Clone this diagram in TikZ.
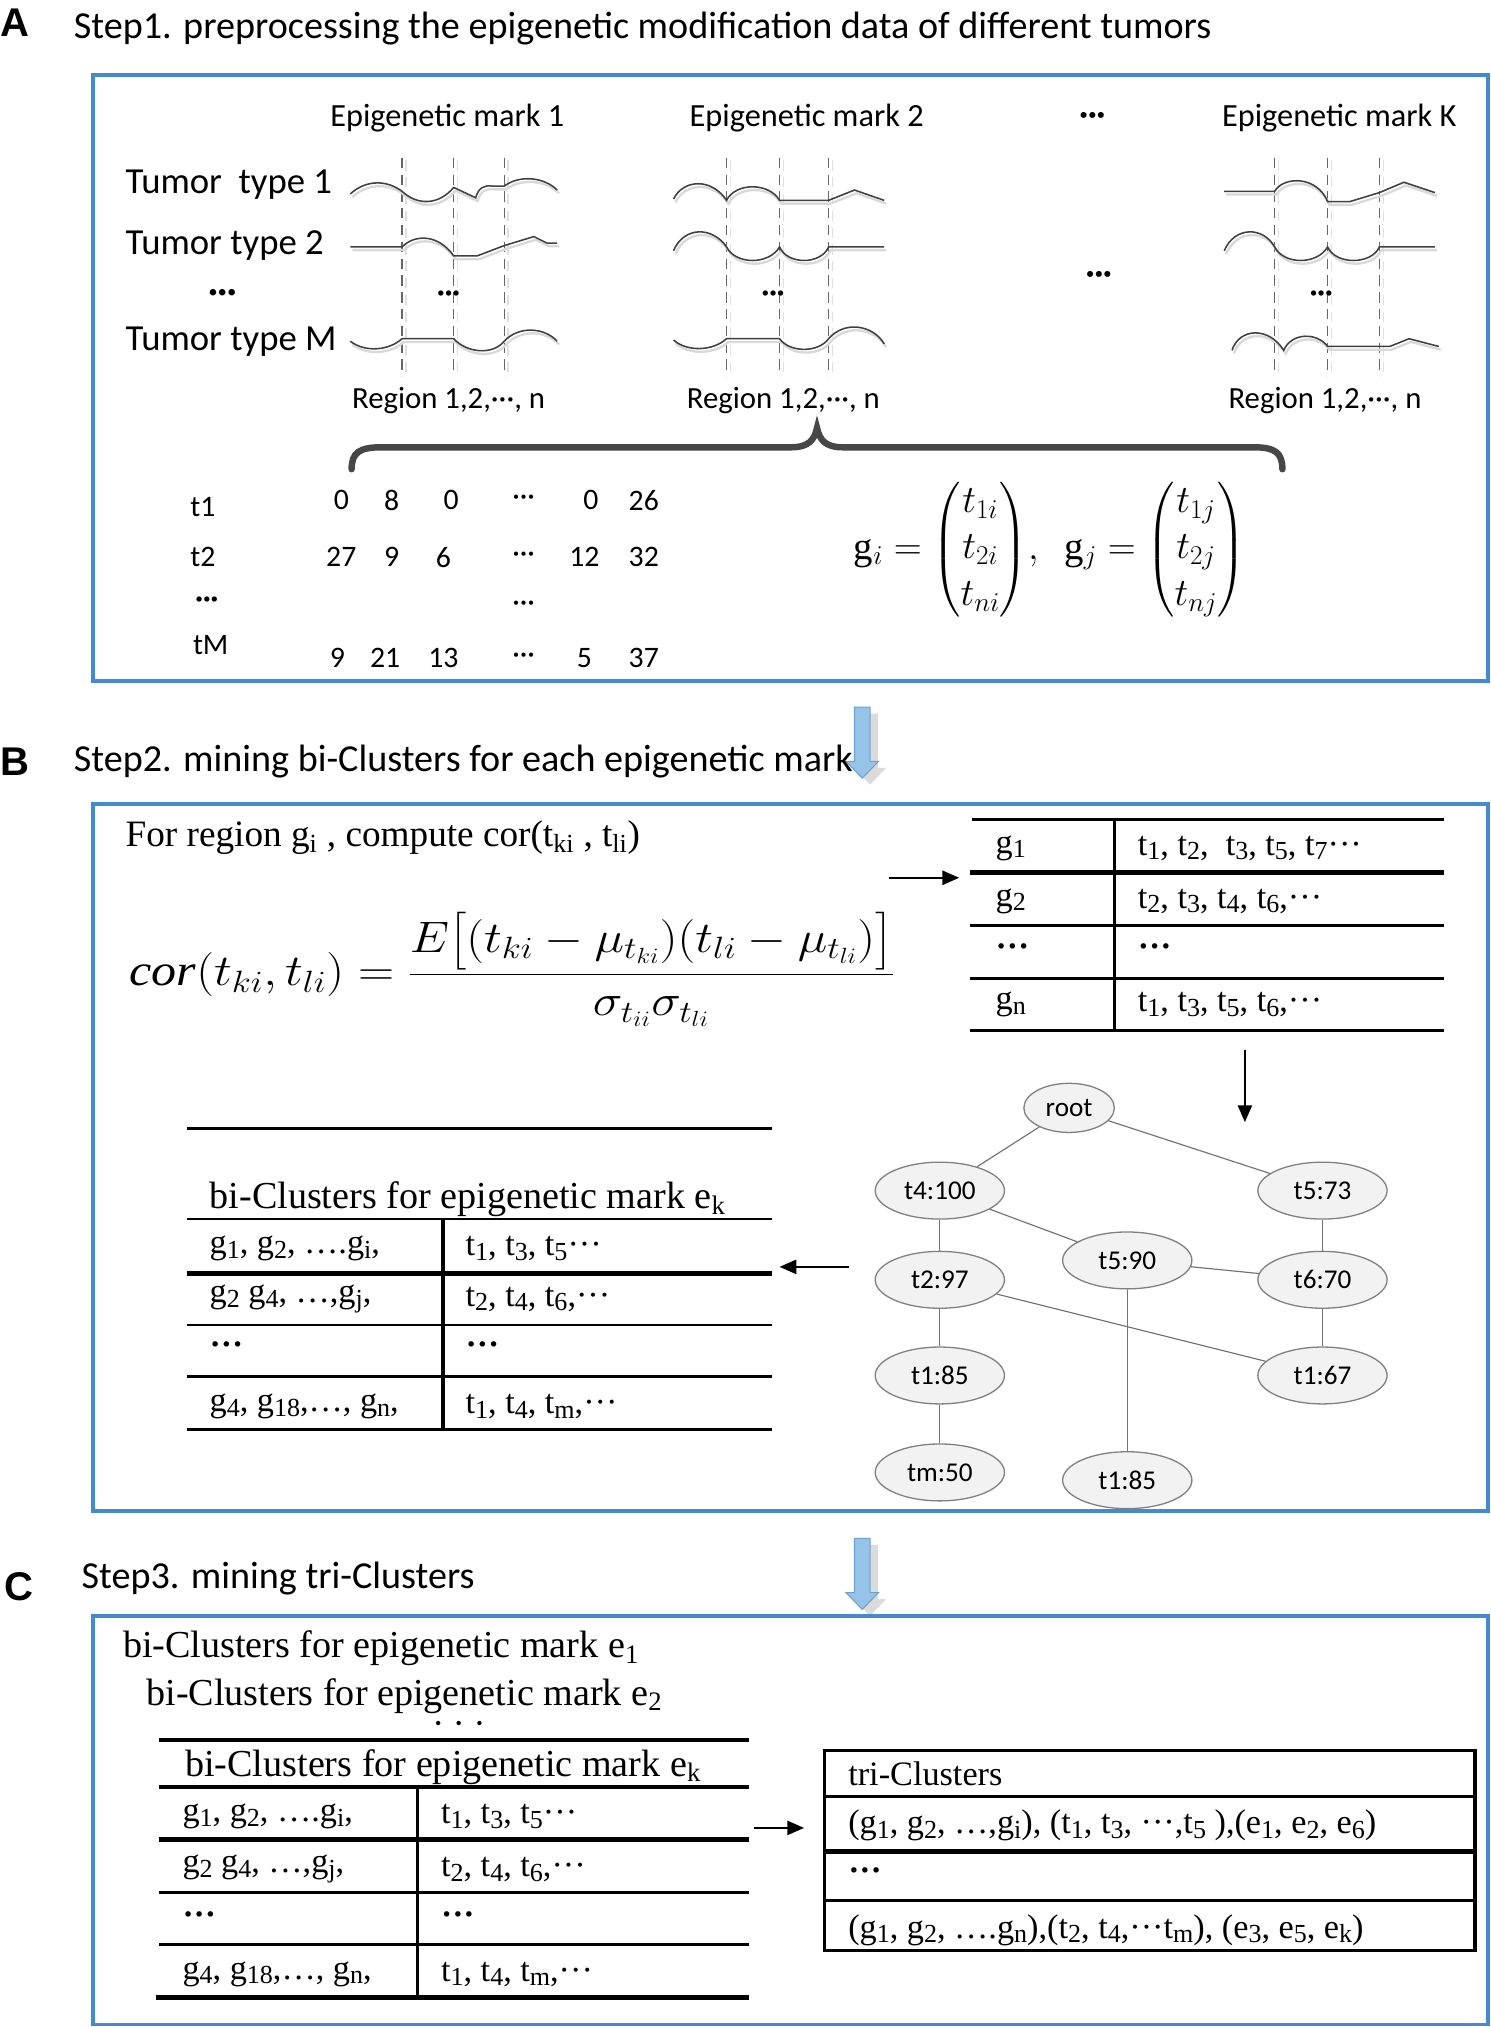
\RequirePackage{fix-cm}
\documentclass[tikz,border=0pt]{standalone}
\usepackage{amsmath}
\usepackage{graphicx}
\usepackage{fontspec}
\usetikzlibrary{shapes.geometric,arrows.meta}
\setmainfont{Liberation Serif}
\newfontfamily\calib{Carlito}
\newfontfamily\arialf{Liberation Sans}
\newcommand\fsz[1]{\fontsize{#1}{#1}\selectfont}
\newcommand\sbx[1]{\raisebox{-0.3ex}{\scalebox{0.76}{#1}}}
\definecolor{panelblue}{RGB}{68,138,208}
\definecolor{arrowblue}{RGB}{150,195,232}
\definecolor{arrowedge}{RGB}{110,160,205}
\newcommand\wv[3]{%
  \begin{scope}[shift={(#1+1.5,#2+2.5)}]\draw[waveshadow] #3;\end{scope}
  \begin{scope}[shift={(#1,#2)}]\draw[wave] #3;\end{scope}}
\newcommand\bluearr[2]{%
  \fill[black!14] (#1-6+6,#2+5) -- (#1+6+6,#2+5) -- (#1+6+6,#2+47) -- (#1+12.5+6,#2+47) -- (#1+6,#2+60) -- (#1-12.5+6,#2+47) -- (#1-6+6,#2+47) -- cycle;
  \filldraw[fill=arrowblue,draw=arrowedge,line width=0.8pt] (#1-6,#2) -- (#1+6,#2) -- (#1+6,#2+42) -- (#1+12.5,#2+42) -- (#1,#2+55) -- (#1-12.5,#2+42) -- (#1-6,#2+42) -- cycle;}
\begin{document}
\begin{tikzpicture}[x=1pt,y=-1pt,
  panel/.style={draw=panelblue, line width=3pt},
  steptitle/.style={anchor=base west, font=\calib\fsz{29.5}, inner sep=0},
  letter/.style={anchor=base west, font=\arialf\bfseries\fsz{31}, inner sep=0},
  calt/.style={font=\calib\fsz{23}, inner sep=0},
  tumor/.style={anchor=base west, font=\calib\fsz{28.4}, inner sep=0},
  wave/.style={line width=1.2pt, draw=black!75},
  waveshadow/.style={line width=1.8pt, draw=black!15},
  vdash/.style={draw=black!60, line width=0.9pt, dash pattern=on 8pt off 5pt},
  tbl/.style={line width=2.2pt},
  tblthick/.style={line width=3.8pt},
  ttext/.style={anchor=west, font=\fsz{26.5}, inner sep=0},
  thead/.style={anchor=base west, font=\fsz{29.5}, inner sep=0},
  tnode/.style={ellipse, draw=black!50, fill=black!5, line width=1pt, minimum width=100pt, minimum height=44pt, inner sep=0, font=\calib\fsz{21}},
  tedge/.style={draw=black!55, line width=0.9pt},
  blk/.style={-{Triangle[length=13pt,width=11pt]}, line width=1.4pt}]
\useasboundingbox (0,0) rectangle (1153,1568);

% ---------------- Panel A ----------------
\node[letter] (LA) at (0,28) {A};
\node[steptitle] (S1) at (57,30) {Step1. preprocessing the epigenetic modification data of different tumors};
\draw[panel] (72,58) rectangle (1151,527);

\node[calt, anchor=base, font=\calib\fsz{25}] (em1) at (346,98) {Epigenetic mark 1};
\node[calt, anchor=base, font=\calib\fsz{25}] (em2) at (624,98) {Epigenetic mark 2};
\node[calt, font=\calib\fsz{25}\bfseries] (emd) at (845,92) {···};
\node[calt, anchor=base, font=\calib\fsz{25}] (emk) at (1036,98) {Epigenetic mark K};

\node[tumor] (tt1) at (97,150) {Tumor\ \ type 1};
\node[tumor] (tt2) at (97,197) {Tumor type 2};
\node[calt, font=\calib\fsz{27}\bfseries] (ttd) at (172,229) {···};
\node[tumor] (ttm) at (97,271) {Tumor type M};

% dashed region boundaries
\foreach \x in {311,351,390,562,603,641,986,1027,1067}{
  \draw[black!12, line width=1pt, dash pattern=on 8pt off 5pt] (\x+3,124) -- (\x+3,293);
  \draw[vdash] (\x,122) -- (\x,291);}

% waves mark 1
\wv{271}{148}{(0,2) .. controls (12,-9) and (28,-9) .. (40,0) .. controls (52,11) and (68,11) .. (80,-3) -- (97,5) .. controls (99,-3) and (104,-5) .. (110,-4) -- (119,-4) .. controls (131,-13) and (150,-11) .. (160,-1)}
\wv{271}{191}{(0,0) -- (40,0) .. controls (50,-10) and (68,-10) .. (80,7) -- (98,7) -- (119,-1) -- (142,-8) -- (152,-3) -- (160,-3)}
\wv{271}{263}{(0,1) .. controls (12,10) and (30,8) .. (40,-1) -- (80,-1) .. controls (90,10) and (110,12) .. (119,1) .. controls (130,-11) and (150,-10) .. (160,1)}
% waves mark 2
\wv{521}{148}{(0,6) .. controls (8,-10) and (30,-10) .. (41,7) .. controls (48,-7) and (74,-7) .. (82,7) -- (120,7) -- (140,-1) -- (163,7)}
\wv{521}{191}{(0,3) .. controls (8,-16) and (30,-16) .. (41,0) .. controls (48,14) and (74,14) .. (82,0) .. controls (88,14) and (114,14) .. (120,0) -- (163,0)}
\wv{521}{263}{(0,0) .. controls (10,9) and (30,9) .. (41,-1) -- (82,-1) .. controls (90,10) and (112,10) .. (120,-1) .. controls (132,-15) and (154,-12) .. (163,3)}
% waves mark K
\wv{947}{148}{(0,0) -- (39,0) .. controls (46,-12) and (72,-12) .. (80,8) -- (97,8) -- (120,1) -- (139,-7) -- (163,1)}
\wv{947}{191}{(0,3) .. controls (8,-16) and (30,-16) .. (39,0) .. controls (46,14) and (72,14) .. (80,0) .. controls (86,14) and (114,14) .. (120,0) -- (163,0)}
\wv{947}{263}{(6,8) .. controls (12,-10) and (35,-10) .. (46,8) .. controls (52,-6) and (72,-6) .. (80,5) -- (128,5) -- (143,-1) -- (166,5)}

\node[calt, font=\calib\fsz{22}\bfseries] (d1) at (347,229) {···};
\node[calt, font=\calib\fsz{22}\bfseries] (d2) at (598,229) {···};
\node[calt, font=\calib\fsz{25}\bfseries] (d3) at (850,215) {···};
\node[calt, font=\calib\fsz{22}\bfseries] (d4) at (1022,229) {···};

\node[calt, anchor=base, font=\calib\fsz{23.8}] (r1) at (347,316) {Region 1,2,···, n};
\node[calt, anchor=base, font=\calib\fsz{23.8}] (r2) at (606,316) {Region 1,2,···, n};
\node[calt, anchor=base, font=\calib\fsz{23.8}] (r3) at (1025,316) {Region 1,2,···, n};

% brace
\draw[black!72, line width=5pt, line cap=round] (272,363) .. controls (272,350) and (278,346) .. (295,346) -- (612,346) .. controls (626,346) and (630,340) .. (632,331) .. controls (634,340) and (638,346) .. (652,346) -- (970,346) .. controls (986,346) and (992,350) .. (992,363);

% matrix of values
\node[calt] (mt1) at (157,392) {t1};
\node[calt] (mt2) at (157,431) {t2};
\node[calt, font=\calib\fsz{22}\bfseries] (mtd) at (160,466) {···};
\node[calt] (mtM) at (163,499) {tM};
\foreach \x/\v [count=\i] in {264/0,303/8,349/0,405/···,457/0,498/26}
  \node[calt] (ra\i) at (\x,387) {\v};
\foreach \x/\v [count=\i] in {264/27,303/9,343/6,405/···,452/12,498/32}
  \node[calt] (rb\i) at (\x,431) {\v};
\node[calt] (rc) at (405,469) {···};
\foreach \x/\v [count=\i] in {261/9,298/21,343/13,405/···,452/5,498/37}
  \node[calt] (rd\i) at (\x,509) {\v};

\node (gform) at (812,425) {\fontsize{30}{36}\selectfont $\mathrm{g}_i = \begin{pmatrix} t_{1i}\\ t_{2i}\\ t_{ni}\end{pmatrix}\!,\ \ \mathrm{g}_j = \begin{pmatrix} t_{1j}\\ t_{2j}\\ t_{nj}\end{pmatrix}$};

\bluearr{667}{547}

% ---------------- Panel B ----------------
\node[letter] (LB) at (0,600) {B};
\node[steptitle] (S2) at (57,597) {Step2. mining bi-Clusters for each epigenetic mark};
\draw[panel] (72,622) rectangle (1151,1169);

\node[thead, font=\fsz{28.8}] (forreg) at (97,655) {For region g\textsubscript{i} , compute cor(t\textsubscript{ki} , t\textsubscript{li})};
\node[anchor=west, inner sep=0] (corf) at (100,750) {\scalebox{1.14}[1]{\fontsize{34}{40}\selectfont $\mathit{cor}(t_{ki},t_{li}) = \dfrac{E\bigl[(t_{ki}-\mu_{t_{ki}})(t_{li}-\mu_{t_{li}})\bigr]}{\sigma_{t_{ii}}\sigma_{t_{li}}}$}};

% table g -> t
\draw[tbl] (752,634) -- (1117,634);
\draw[tblthick] (750,675) -- (1117,675);
\draw[tbl] (750,716) -- (1117,716);
\draw[tbl] (750,757) -- (1117,757);
\draw[tbl] (750,797) -- (1117,797);
\draw[tbl] (862,634) -- (862,797);
\node[ttext] (ga1) at (770,656) {g\sbx{1}};
\node[ttext] (ta1) at (880,656) {t\sbx{1}, t\sbx{2},\ \ t\sbx{3}, t\sbx{5}, t\sbx{7}···};
\node[ttext] (ga2) at (770,697) {g\sbx{2}};
\node[ttext] (ta2) at (880,697) {t\sbx{2}, t\sbx{3}, t\sbx{4}, t\sbx{6},···};
\node[ttext, font=\fsz{26}\bfseries] (ga3) at (770,735) {···};
\node[ttext, font=\fsz{26}\bfseries] (ta3) at (880,735) {···};
\node[ttext] (ga4) at (770,777) {g\sbx{n}};
\node[ttext] (ta4) at (880,777) {t\sbx{1}, t\sbx{3}, t\sbx{5}, t\sbx{6},···};

\coordinate (a1s) at (688,679);
\coordinate (a1e) at (742,679);
\draw[blk] (a1s) -- (a1e);
\coordinate (a2s) at (963,812);
\coordinate (a2e) at (963,868);
\draw[blk] (a2s) -- (a2e);

% tree
\node[tnode, minimum width=70pt, minimum height=38pt] (root) at (827,857) {root};
\node[tnode] (t4) at (727,921) {t4:100};
\node[tnode] (t5a) at (1023,921) {t5:73};
\node[tnode] (t5b) at (872,975) {t5:90};
\node[tnode] (t2) at (727,990) {t2:97};
\node[tnode] (t6) at (1023,990) {t6:70};
\node[tnode] (t1a) at (727,1064) {t1:85};
\node[tnode] (t1b) at (1023,1064) {t1:67};
\node[tnode] (tm) at (727,1139) {tm:50};
\node[tnode] (t1c) at (872,1145) {t1:85};
\draw[tedge] (root) -- (t4);
\draw[tedge] (root) -- (t5a);
\draw[tedge] (t4) -- (t5b);
\draw[tedge] (t4) -- (t2);
\draw[tedge] (t5a) -- (t6);
\draw[tedge] (t5b) -- (t6);
\draw[tedge] (t2) -- (t1b);
\draw[tedge] (t2) -- (t1a);
\draw[tedge] (t6) -- (t1b);
\draw[tedge] (t1a) -- (tm);
\draw[tedge] (t5b) -- (t1c);

\coordinate (a3s) at (657,980);
\coordinate (a3e) at (603,980);
\draw[blk] (a3s) -- (a3e);

% bi-cluster table B
\draw[tbl] (145,873) -- (597,873);
\node[thead] (bhead) at (162,935) {bi-Clusters for epigenetic mark e\textsubscript{k}};
\draw[tbl] (145,943) -- (597,943);
\draw[tblthick] (145,985) -- (597,985);
\draw[tbl] (145,1025) -- (597,1025);
\draw[tbl] (145,1065) -- (597,1065);
\draw[tbl] (145,1106) -- (597,1106);
\draw[line width=3pt] (343,943) -- (343,1106);
\node[ttext] (bl1) at (162,966) {g\sbx{1}, g\sbx{2}, ….g\sbx{i},};
\node[ttext] (br1) at (360,966) {t\sbx{1}, t\sbx{3}, t\sbx{5}···};
\node[ttext] (bl2) at (162,1005) {g\sbx{2} g\sbx{4}, …,g\sbx{j},};
\node[ttext] (br2) at (360,1005) {t\sbx{2}, t\sbx{4}, t\sbx{6},···};
\node[ttext, font=\fsz{26}\bfseries] (bl3) at (162,1043) {···};
\node[ttext, font=\fsz{26}\bfseries] (br3) at (360,1043) {···};
\node[ttext] (bl4) at (162,1088) {g\sbx{4}, g\sbx{18},…, g\sbx{n},};
\node[ttext] (br4) at (360,1088) {t\sbx{1}, t\sbx{4}, t\sbx{m},···};

\bluearr{667}{1190}

% ---------------- Panel C ----------------
\node[letter] (LC) at (3,1238) {C};
\node[steptitle] (S3) at (63,1229) {Step3. mining tri-Clusters};
\draw[panel] (72,1250) rectangle (1151,1566);

\node[thead] (c1) at (95,1282) {bi-Clusters for epigenetic mark e\textsubscript{1}};
\node[thead] (c2) at (113,1319) {bi-Clusters for epigenetic mark e\textsubscript{2}};
\node[inner sep=0, font=\fsz{14}] (cd) at (355,1335) {\textbullet\hspace{11pt}\textbullet\hspace{11pt}\textbullet};

\draw[tblthick] (123,1346) -- (579,1346);
\node[thead] (chead) at (143,1374) {bi-Clusters for epigenetic mark e\textsubscript{k}};
\draw[line width=3pt] (123,1382) -- (579,1382);
\draw[tblthick] (123,1423) -- (579,1423);
\draw[tbl] (123,1464) -- (579,1464);
\draw[tbl] (123,1504) -- (579,1504);
\draw[tblthick] (121,1545) -- (579,1545);
\draw[line width=3pt] (323,1382) -- (323,1545);
\node[ttext] (cl1) at (141,1405) {g\sbx{1}, g\sbx{2}, ….g\sbx{i},};
\node[ttext] (cr1) at (341,1405) {t\sbx{1}, t\sbx{3}, t\sbx{5}···};
\node[ttext] (cl2) at (141,1446) {g\sbx{2} g\sbx{4}, …,g\sbx{j},};
\node[ttext] (cr2) at (341,1446) {t\sbx{2}, t\sbx{4}, t\sbx{6},···};
\node[ttext, font=\fsz{26}\bfseries] (cl3) at (141,1484) {···};
\node[ttext, font=\fsz{26}\bfseries] (cr3) at (341,1484) {···};
\node[ttext] (cl4) at (141,1527) {g\sbx{4}, g\sbx{18},…, g\sbx{n},};
\node[ttext] (cr4) at (341,1527) {t\sbx{1}, t\sbx{4}, t\sbx{m},···};

\coordinate (a4s) at (583,1414);
\coordinate (a4e) at (622,1414);
\draw[blk] (a4s) -- (a4e);

% tri-cluster table
\draw[line width=2.4pt] (638,1354) rectangle (1141,1509);
\draw[line width=2.4pt] (638,1390) -- (1141,1390);
\draw[tblthick] (638,1432) -- (1141,1432);
\draw[line width=2.4pt] (638,1470) -- (1141,1470);
\node[ttext] (tr1) at (656,1372) {tri-Clusters};
\node[ttext] (tr2) at (656,1412) {(g\sbx{1}, g\sbx{2}, …,g\sbx{i}), (t\sbx{1}, t\sbx{3}, ···,t\sbx{5} ),(e\sbx{1}, e\sbx{2}, e\sbx{6})};
\node[ttext, font=\fsz{26}\bfseries] (tr3) at (656,1450) {···};
\node[ttext] (tr4) at (656,1493) {(g\sbx{1}, g\sbx{2}, ….g\sbx{n}),(t\sbx{2}, t\sbx{4},···t\sbx{m}), (e\sbx{3}, e\sbx{5}, e\sbx{k})};
\end{tikzpicture}
\end{document}
